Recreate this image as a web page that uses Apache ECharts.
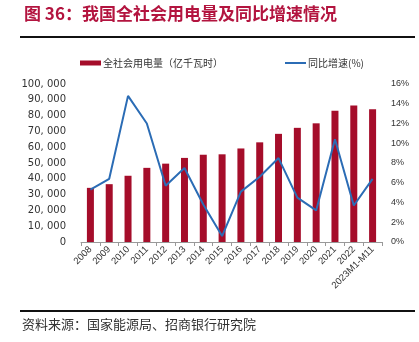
<!DOCTYPE html>
<html><head><meta charset="utf-8">
<script src="https://cdn.jsdelivr.net/npm/echarts@6/dist/echarts.min.js"></script>
<style>html,body{margin:0;padding:0;background:#fff}#c{width:419px;height:342px}</style>
</head><body><div id="c"></div>
<script>
const categories = ['2008','2009','2010','2011','2012','2013','2014','2015','2016','2017','2018','2019','2020','2021','2022','2023M1-M11'];
const consumption = [34268,36595,41923,46928,49591,53223,55233,55500,59198,63077,68449,72255,75110,83128,86372,84000];
const growth = [5.3,6.4,14.8,12.0,5.7,7.5,3.8,0.6,5.1,6.6,8.5,4.5,3.2,10.4,3.7,6.4];
const leftTicks = {min:0,max:100000,interval:10000};
const rightTicks = {min:0,max:16,interval:2};

const chart = echarts.init(document.getElementById('c'), null, {renderer:'canvas'});
const cjk = '"Noto Sans CJK SC", sans-serif';
chart.setOption({
  animation:false,
  graphic:[
    {type:'text', left:24, top:5, style:{text:'图 36：我国全社会用电量及同比增速情况', fill:'#b3143f', font:'bold 17px "Noto Sans CJK SC", sans-serif'}},
    {type:'rect', shape:{x:20,y:36,width:395,height:2}, style:{fill:'#111'}},
    {type:'rect', shape:{x:20,y:310,width:395,height:2}, style:{fill:'#111'}},
    {type:'text', left:22, top:318, style:{text:'资料来源：国家能源局、招商银行研究院', fill:'#333', font:'13px "Noto Sans CJK SC", sans-serif'}}
  ],
  legend:{
    top:53, left:75, itemGap:62, itemWidth:21, itemHeight:5,
    textStyle:{fontFamily:cjk, fontSize:10, color:'#333', padding:[0,0,0,-3]},
    data:[{name:'全社会用电量（亿千瓦时）', icon:'rect'},{name:'同比增速(%)', icon:'path://M0,0H21V2H0Z'}]
  },
  grid:{left:81, right:37, top:84, bottom:100},
  xAxis:{
    type:'category', data:categories,
    axisLine:{lineStyle:{color:'#999'}},
    axisTick:{show:true, lineStyle:{color:'#999'}, length:4},
    axisLabel:{rotate:45, fontSize:9.5, color:'#333', fontFamily:'Arial, "Liberation Sans", sans-serif', margin:6, interval:0}
  },
  yAxis:[
    {type:'value', min:leftTicks.min, max:leftTicks.max, interval:leftTicks.interval,
     splitLine:{show:false}, axisLine:{show:false}, axisTick:{show:false},
     axisLabel:{fontSize:10, color:'#333', margin:15, fontFamily:'"DejaVu Sans", sans-serif',
       formatter:v=>v.toLocaleString('en-US').replace(/,/g,', ')}},
    {type:'value', min:rightTicks.min, max:rightTicks.max, interval:rightTicks.interval,
     splitLine:{show:false}, axisLine:{show:false}, axisTick:{show:false},
     axisLabel:{fontSize:9, color:'#333', margin:9, fontFamily:'Arial, "Liberation Sans", sans-serif', formatter:'{value}%'}}
  ],
  series:[
    {name:'全社会用电量（亿千瓦时）', type:'bar', data:consumption, barWidth:7, itemStyle:{color:'#a50d2a'}},
    {name:'同比增速(%)', type:'line', yAxisIndex:1, data:growth, symbol:'none', lineStyle:{color:'#2b6cb5', width:2}, itemStyle:{color:'#2b6cb5'}}
  ]
});
</script></body></html>
